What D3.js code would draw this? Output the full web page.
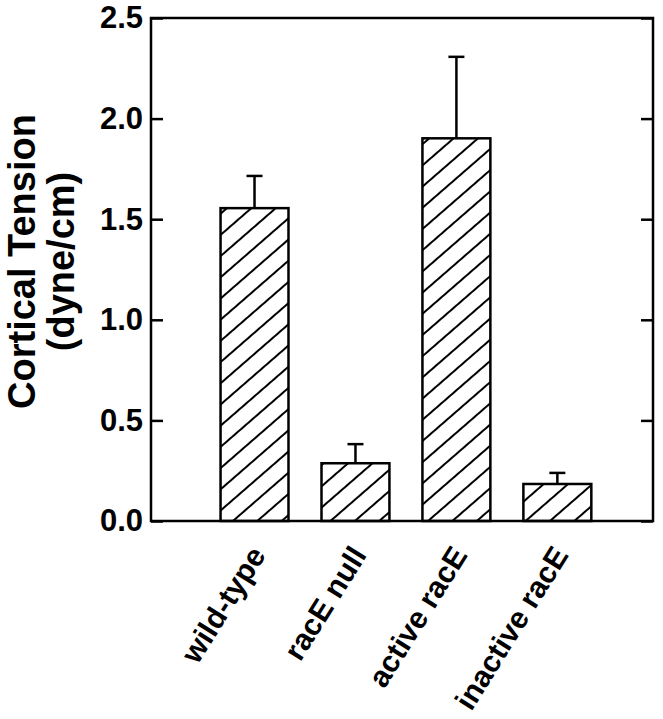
<!DOCTYPE html>
<html>
<head>
<meta charset="utf-8">
<script src="https://cdn.jsdelivr.net/npm/d3@7"></script>
<style>
  body { margin: 0; background: #fff; }
  svg { display: block; font-family: "Liberation Sans", Arial, Helvetica, sans-serif; font-weight: bold; }
</style>
</head>
<body>
<div id="chart"></div>
<script>
const categories = ["wild-type", "racE null", "active racE", "inactive racE"];
const tension = [1.555, 0.287, 1.902, 0.184];   // dyne/cm
const errUp = [0.16, 0.095, 0.405, 0.055];
const yTicks = [0, 0.5, 1.0, 1.5, 2.0, 2.5];

const width = 663;
const height = 719;
const margin = { top: 18, right: 10, bottom: 198, left: 151 };

const svg = d3.select("#chart")
  .append("svg")
  .attr("width", width)
  .attr("height", height);

// hatch pattern
svg.append("defs")
  .append("pattern")
  .attr("id", "hatch")
  .attr("patternUnits", "userSpaceOnUse")
  .attr("width", 16)
  .attr("height", 16)
  .attr("patternTransform", "rotate(49)")
  .append("line")
  .attr("x1", 2).attr("y1", 0)
  .attr("x2", 2).attr("y2", 16)
  .attr("stroke", "#000")
  .attr("stroke-width", 2);

const x = d3.scaleBand()
  .domain(categories)
  .range([margin.left, width - margin.right])
  .paddingInner(0.327)
  .paddingOuter(0.65)
  .align(0.53);

const y = d3.scaleLinear()
  .domain([0, 2.5])
  .range([height - margin.bottom, margin.top]);

// left axis, ticks pointing inward
const yAxis = svg.append("g")
  .attr("transform", `translate(${margin.left},0)`)
  .call(d3.axisLeft(y).tickValues(yTicks).tickFormat(d3.format(".1f")).tickSizeInner(-12).tickSizeOuter(0).tickPadding(8));
yAxis.select(".domain").remove();
yAxis.selectAll("line").attr("stroke-width", 2.5);
yAxis.selectAll("text")
  .attr("font-size", 31)
  .attr("font-family", "'Liberation Sans', Arial, sans-serif")
  .attr("font-weight", "bold")
  .attr("fill", "#000");

// right axis, ticks only
const yAxisR = svg.append("g")
  .attr("transform", `translate(${width - margin.right},0)`)
  .call(d3.axisRight(y).tickValues(yTicks).tickFormat("").tickSizeInner(-12).tickSizeOuter(0));
yAxisR.select(".domain").remove();
yAxisR.selectAll("line").attr("stroke-width", 2.5);

// bars
svg.append("g")
  .selectAll("rect")
  .data(categories)
  .join("rect")
  .attr("x", d => x(d))
  .attr("y", (d, i) => y(tension[i]))
  .attr("width", x.bandwidth())
  .attr("height", (d, i) => y(0) - y(tension[i]))
  .attr("fill", "url(#hatch)")
  .attr("stroke", "#000")
  .attr("stroke-width", 2.5);

// error bars (upper only)
const err = svg.append("g")
  .attr("stroke", "#000")
  .attr("stroke-width", 2.5);
err.selectAll("line.v")
  .data(categories)
  .join("line")
  .attr("class", "v")
  .attr("x1", d => x(d) + x.bandwidth() / 2)
  .attr("x2", d => x(d) + x.bandwidth() / 2)
  .attr("y1", (d, i) => y(tension[i]))
  .attr("y2", (d, i) => y(tension[i] + errUp[i]));
err.selectAll("line.c")
  .data(categories)
  .join("line")
  .attr("class", "c")
  .attr("x1", d => x(d) + x.bandwidth() / 2 - 8)
  .attr("x2", d => x(d) + x.bandwidth() / 2 + 8)
  .attr("y1", (d, i) => y(tension[i] + errUp[i]))
  .attr("y2", (d, i) => y(tension[i] + errUp[i]));

// frame
svg.append("rect")
  .attr("x", margin.left)
  .attr("y", margin.top)
  .attr("width", width - margin.right - margin.left)
  .attr("height", y(0) - margin.top)
  .attr("fill", "none")
  .attr("stroke", "#000")
  .attr("stroke-width", 2.5);

// x labels, rotated
const xAxis = svg.append("g")
  .attr("transform", `translate(0,${y(0)})`)
  .call(d3.axisBottom(x).tickSize(0).tickPadding(0));
xAxis.select(".domain").remove();
xAxis.selectAll("text")
  .attr("font-size", 30)
  .attr("font-family", "'Liberation Sans', Arial, sans-serif")
  .attr("font-weight", "bold")
  .attr("fill", "#000")
  .attr("text-anchor", "end")
  .attr("dy", null)
  .attr("y", null)
  .attr("transform", "translate(12,34) rotate(-58)");

// y title
const title = svg.append("text")
  .attr("transform", `translate(0,${(margin.top + y(0)) / 2 - 8}) rotate(-90)`)
  .attr("text-anchor", "middle")
  .attr("font-size", 38)
  .attr("fill", "#000");
title.append("tspan").attr("x", 0).attr("y", 35).text("Cortical Tension");
title.append("tspan").attr("x", 0).attr("y", 74).text("(dyne/cm)");
</script>
</body>
</html>
